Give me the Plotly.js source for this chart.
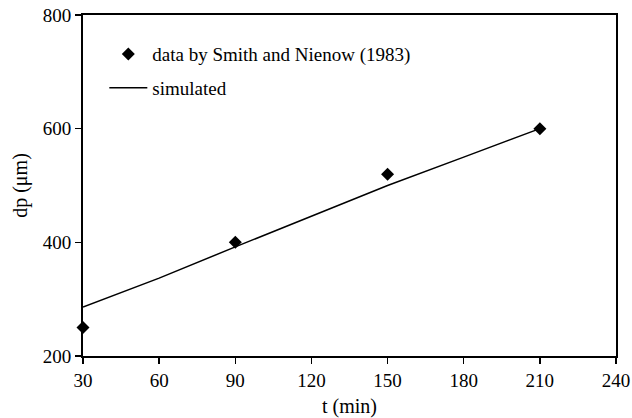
<!DOCTYPE html>
<html>
<head>
<meta charset="utf-8">
<script src="https://cdn.plot.ly/plotly-3.0.1.min.js"></script>
<style>html,body{margin:0;padding:0;background:#fff;}#chart{width:632px;height:418px;}</style>
</head>
<body>
<div id="chart"></div>
<script>
// measured data
const dataT = [30, 90, 150, 210];
const dataDp = [250, 400, 520, 600];
// simulated curve
const simT = [30, 60, 90, 120, 150, 180, 210];
const simDp = [286, 337, 392, 446, 500, 550, 600];
const xTicks = [30, 60, 90, 120, 150, 180, 210, 240];
const yTicks = [200, 400, 600, 800];

const FAM = 'Liberation Serif, Times New Roman, serif';
function f(size) { return {family: FAM, size: size, color: '#000'}; }

const traces = [
  {
    x: dataT, y: dataDp, type: 'scatter', mode: 'markers',
    name: 'data by Smith and Nienow (1983)',
    marker: {symbol: 'diamond', size: 10, color: '#000'},
    cliponaxis: false, legend: 'legend'
  },
  {
    x: simT, y: simDp, type: 'scatter', mode: 'lines',
    name: 'simulated',
    line: {color: '#000', width: 1.5},
    legend: 'legend2'
  }
];

const layout = {
  width: 632, height: 418,
  margin: {l: 83, r: 16, t: 15, b: 62},
  paper_bgcolor: '#fff', plot_bgcolor: '#fff',
  font: f(19),
  showlegend: true,
  xaxis: {
    range: [30, 240], tickvals: xTicks, ticktext: xTicks.map(String),
    ticklabeloverflow: 'allow',
    ticks: 'outside', ticklen: 6, tickwidth: 1.5, tickcolor: '#000',
    showline: true, linecolor: '#000', linewidth: 2, mirror: true,
    showgrid: false, zeroline: false,
    tickfont: f(19),
    title: {text: 't (min)', font: f(20), standoff: 17}
  },
  yaxis: {
    range: [200, 800], tickvals: yTicks, ticktext: yTicks.map(String),
    ticks: 'outside', ticklen: 6, tickwidth: 1.5, tickcolor: '#000',
    showline: true, linecolor: '#000', linewidth: 2, mirror: true,
    showgrid: false, zeroline: false,
    tickfont: f(19),
    title: {text: 'dp (μm)', font: f(20), standoff: 10}
  },
  legend: {
    x: 0.04, y: 0.885, xanchor: 'left', yanchor: 'middle',
    bgcolor: 'rgba(0,0,0,0)', borderwidth: 0,
    font: f(19), itemwidth: 38
  },
  legend2: {
    x: 0.04, y: 0.786, xanchor: 'left', yanchor: 'middle',
    bgcolor: 'rgba(0,0,0,0)', borderwidth: 0,
    font: f(19), itemwidth: 38
  }
};

Plotly.newPlot('chart', traces, layout, {displayModeBar: false, staticPlot: true});
</script>
</body>
</html>
